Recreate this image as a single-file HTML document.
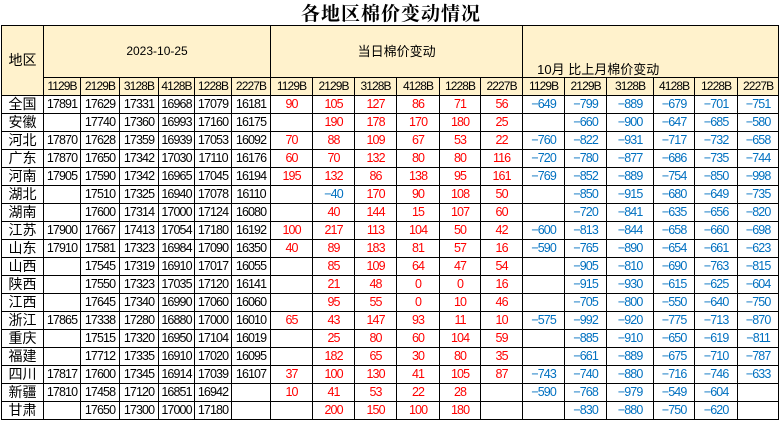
<!DOCTYPE html>
<html><head><meta charset="utf-8"><style>
body{margin:0;width:782px;height:423px;background:#fff;overflow:hidden;font-family:"Liberation Sans","Noto Sans CJK SC",sans-serif;position:relative}
.title{position:absolute;left:0;width:782px;top:0;height:25px;text-align:center;font:bold 19px "Noto Serif CJK SC","Liberation Serif",serif;line-height:25px;letter-spacing:1px}
table{position:absolute;left:1px;top:25px;border-collapse:collapse;table-layout:fixed;width:778px}
td{border:1px solid #000;padding:0;height:17px;font-size:12.5px;letter-spacing:-0.9px;text-align:center;white-space:nowrap;overflow:hidden;line-height:17px}
tr.h1 td{height:51px;background:#FFF2CC;letter-spacing:0}
tr.h2 td{background:#FFF2CC;font-size:12px}
td.a{font-size:14px;letter-spacing:0}
.r td.c{color:#f00}
.r td.b{color:#0070C0}
</style></head><body>
<div class="title">各地区棉价变动情况</div>
<table>
<colgroup><col style="width:42px"><col style="width:37px"><col style="width:39px"><col style="width:39px"><col style="width:36px"><col style="width:37px"><col style="width:39px"><col style="width:42px"><col style="width:42px"><col style="width:42px"><col style="width:43px"><col style="width:41px"><col style="width:42px"><col style="width:42px"><col style="width:42px"><col style="width:47px"><col style="width:41px"><col style="width:43px"><col style="width:41px"></colgroup>
<tr class="h1"><td rowspan="2" class="a">地区</td><td colspan="6" style="font-size:12px">2023-10-25</td><td colspan="6" style="font-size:13px">当日棉价变动</td><td colspan="6" style="vertical-align:bottom;text-align:left;padding-left:14px;font-size:13px;line-height:15px">10月&nbsp;比上月棉价变动</td></tr>
<tr class="h2"><td>1129B</td><td>2129B</td><td>3128B</td><td>4128B</td><td>1228B</td><td>2227B</td><td>1129B</td><td>2129B</td><td>3128B</td><td>4128B</td><td>1228B</td><td>2227B</td><td>1129B</td><td>2129B</td><td>3128B</td><td>4128B</td><td>1228B</td><td>2227B</td></tr>
<tbody class="r">
<tr><td class="a">全国</td><td>17891</td><td>17629</td><td>17331</td><td>16968</td><td>17079</td><td>16181</td><td class="c">90</td><td class="c">105</td><td class="c">127</td><td class="c">86</td><td class="c">71</td><td class="c">56</td><td class="b">−649</td><td class="b">−799</td><td class="b">−889</td><td class="b">−679</td><td class="b">−701</td><td class="b">−751</td></tr>
<tr><td class="a">安徽</td><td></td><td>17740</td><td>17360</td><td>16993</td><td>17160</td><td>16175</td><td></td><td class="c">190</td><td class="c">178</td><td class="c">170</td><td class="c">180</td><td class="c">25</td><td></td><td class="b">−660</td><td class="b">−900</td><td class="b">−647</td><td class="b">−685</td><td class="b">−580</td></tr>
<tr><td class="a">河北</td><td>17870</td><td>17628</td><td>17359</td><td>16939</td><td>17053</td><td>16092</td><td class="c">70</td><td class="c">88</td><td class="c">109</td><td class="c">67</td><td class="c">53</td><td class="c">22</td><td class="b">−760</td><td class="b">−822</td><td class="b">−931</td><td class="b">−717</td><td class="b">−732</td><td class="b">−658</td></tr>
<tr><td class="a">广东</td><td>17870</td><td>17650</td><td>17342</td><td>17030</td><td>17110</td><td>16176</td><td class="c">60</td><td class="c">70</td><td class="c">132</td><td class="c">80</td><td class="c">80</td><td class="c">116</td><td class="b">−720</td><td class="b">−780</td><td class="b">−877</td><td class="b">−686</td><td class="b">−735</td><td class="b">−744</td></tr>
<tr><td class="a">河南</td><td>17905</td><td>17590</td><td>17342</td><td>16965</td><td>17045</td><td>16194</td><td class="c">195</td><td class="c">132</td><td class="c">86</td><td class="c">138</td><td class="c">95</td><td class="c">161</td><td class="b">−769</td><td class="b">−852</td><td class="b">−889</td><td class="b">−754</td><td class="b">−850</td><td class="b">−998</td></tr>
<tr><td class="a">湖北</td><td></td><td>17510</td><td>17325</td><td>16940</td><td>17078</td><td>16110</td><td></td><td class="b">−40</td><td class="c">170</td><td class="c">90</td><td class="c">108</td><td class="c">50</td><td></td><td class="b">−850</td><td class="b">−915</td><td class="b">−680</td><td class="b">−649</td><td class="b">−735</td></tr>
<tr><td class="a">湖南</td><td></td><td>17600</td><td>17314</td><td>17000</td><td>17124</td><td>16080</td><td></td><td class="c">40</td><td class="c">144</td><td class="c">15</td><td class="c">107</td><td class="c">60</td><td></td><td class="b">−720</td><td class="b">−841</td><td class="b">−635</td><td class="b">−656</td><td class="b">−820</td></tr>
<tr><td class="a">江苏</td><td>17900</td><td>17667</td><td>17413</td><td>17054</td><td>17180</td><td>16192</td><td class="c">100</td><td class="c">217</td><td class="c">113</td><td class="c">104</td><td class="c">50</td><td class="c">42</td><td class="b">−600</td><td class="b">−813</td><td class="b">−844</td><td class="b">−658</td><td class="b">−660</td><td class="b">−698</td></tr>
<tr><td class="a">山东</td><td>17910</td><td>17581</td><td>17323</td><td>16984</td><td>17090</td><td>16350</td><td class="c">40</td><td class="c">89</td><td class="c">183</td><td class="c">81</td><td class="c">57</td><td class="c">16</td><td class="b">−590</td><td class="b">−765</td><td class="b">−890</td><td class="b">−654</td><td class="b">−661</td><td class="b">−623</td></tr>
<tr><td class="a">山西</td><td></td><td>17545</td><td>17319</td><td>16910</td><td>17017</td><td>16055</td><td></td><td class="c">85</td><td class="c">109</td><td class="c">64</td><td class="c">47</td><td class="c">54</td><td></td><td class="b">−905</td><td class="b">−810</td><td class="b">−690</td><td class="b">−763</td><td class="b">−815</td></tr>
<tr><td class="a">陕西</td><td></td><td>17550</td><td>17323</td><td>17035</td><td>17120</td><td>16141</td><td></td><td class="c">21</td><td class="c">48</td><td class="c">0</td><td class="c">0</td><td class="c">16</td><td></td><td class="b">−915</td><td class="b">−930</td><td class="b">−615</td><td class="b">−625</td><td class="b">−604</td></tr>
<tr><td class="a">江西</td><td></td><td>17645</td><td>17340</td><td>16990</td><td>17060</td><td>16060</td><td></td><td class="c">95</td><td class="c">55</td><td class="c">0</td><td class="c">10</td><td class="c">46</td><td></td><td class="b">−705</td><td class="b">−800</td><td class="b">−550</td><td class="b">−640</td><td class="b">−750</td></tr>
<tr><td class="a">浙江</td><td>17865</td><td>17338</td><td>17280</td><td>16880</td><td>17000</td><td>16010</td><td class="c">65</td><td class="c">43</td><td class="c">147</td><td class="c">93</td><td class="c">11</td><td class="c">10</td><td class="b">−575</td><td class="b">−992</td><td class="b">−920</td><td class="b">−775</td><td class="b">−713</td><td class="b">−870</td></tr>
<tr><td class="a">重庆</td><td></td><td>17515</td><td>17320</td><td>16950</td><td>17104</td><td>16019</td><td></td><td class="c">25</td><td class="c">80</td><td class="c">60</td><td class="c">104</td><td class="c">59</td><td></td><td class="b">−885</td><td class="b">−910</td><td class="b">−650</td><td class="b">−619</td><td class="b">−811</td></tr>
<tr><td class="a">福建</td><td></td><td>17712</td><td>17335</td><td>16910</td><td>17020</td><td>16095</td><td></td><td class="c">182</td><td class="c">65</td><td class="c">30</td><td class="c">80</td><td class="c">35</td><td></td><td class="b">−661</td><td class="b">−889</td><td class="b">−675</td><td class="b">−710</td><td class="b">−787</td></tr>
<tr><td class="a">四川</td><td>17817</td><td>17600</td><td>17345</td><td>16914</td><td>17039</td><td>16107</td><td class="c">37</td><td class="c">100</td><td class="c">130</td><td class="c">41</td><td class="c">105</td><td class="c">87</td><td class="b">−743</td><td class="b">−740</td><td class="b">−880</td><td class="b">−716</td><td class="b">−746</td><td class="b">−633</td></tr>
<tr><td class="a">新疆</td><td>17810</td><td>17458</td><td>17120</td><td>16851</td><td>16942</td><td></td><td class="c">10</td><td class="c">41</td><td class="c">53</td><td class="c">22</td><td class="c">28</td><td></td><td class="b">−590</td><td class="b">−768</td><td class="b">−979</td><td class="b">−549</td><td class="b">−604</td><td></td></tr>
<tr><td class="a">甘肃</td><td></td><td>17650</td><td>17300</td><td>17000</td><td>17180</td><td></td><td></td><td class="c">200</td><td class="c">150</td><td class="c">100</td><td class="c">180</td><td></td><td></td><td class="b">−830</td><td class="b">−880</td><td class="b">−750</td><td class="b">−620</td><td></td></tr>
</tbody>
</table>
</body></html>
